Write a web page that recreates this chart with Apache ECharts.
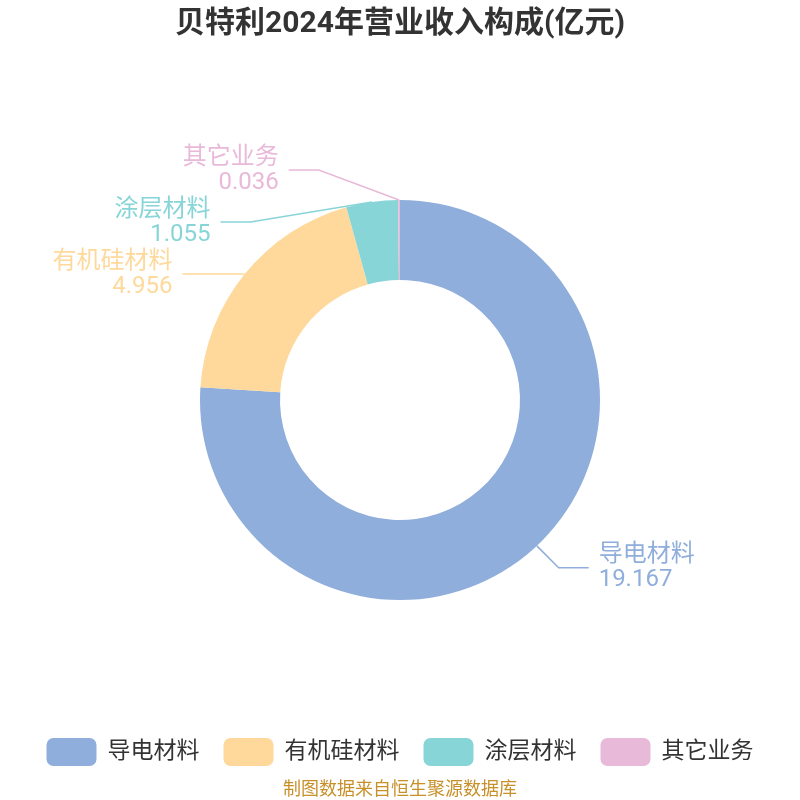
<!DOCTYPE html>
<html>
<head>
<meta charset="utf-8">
<script src="https://cdn.jsdelivr.net/npm/echarts@6/dist/echarts.min.js"></script>
<style>
  html, body { margin: 0; padding: 0; background: #fff; }
  #chart { width: 800px; height: 800px; }
</style>
</head>
<body>
<div id="chart"></div>
<script>
const categories = ["导电材料", "有机硅材料", "涂层材料", "其它业务"];
const values = [19.167, 4.956, 1.055, 0.036];
const colors = ["#8FAEDB", "#FED99B", "#88D5D8", "#E8B9D9"];

const LINE_LEN = 30;
const LINE_LEN2 = 30;
const LABEL_GAP = 10;

const chart = echarts.init(document.getElementById("chart"));

// place labels on a circle around the pie (older echarts style), keep the shifted y
function placeLabel(params) {
  const pts = params.labelLinePoints;
  if (!pts) return {};
  const w = chart.getWidth();
  const h = chart.getHeight();
  const cx = w / 2;
  const cy = h / 2;
  const r = (Math.min(w, h) / 2) * 0.5;
  const dir = pts[2][0] < pts[0][0] ? -1 : 1;
  const y = pts[2][1];
  const dy = Math.abs(y - cy);
  const R = r + LINE_LEN + LINE_LEN2;
  if (dy >= r + LINE_LEN) return {};
  const x = cx + dir * Math.sqrt(R * R - dy * dy);
  const x2 = x - dir * LABEL_GAP;
  const x1 = x2 - dir * LINE_LEN2;
  return {
    x: x,
    y: y,
    align: dir < 0 ? "right" : "left",
    verticalAlign: "middle",
    labelLinePoints: [pts[0], [x1, y], [x2, y]],
  };
}

const option = {
  textStyle: { fontFamily: "Roboto, 'Noto Sans CJK SC', sans-serif" },
  title: {
    text: "贝特利2024年营业收入构成(亿元)",
    left: "center",
    top: 5,
    textStyle: { fontSize: 30, fontWeight: "bold", color: "#333" },
  },
  graphic: [
    {
      type: "text",
      left: "center",
      top: 779,
      style: {
        text: "制图数据来自恒生聚源数据库",
        fill: "#C8902A",
        fontSize: 18,
        fontFamily: "'Noto Sans CJK SC', sans-serif",
      },
    },
  ],
  legend: {
    bottom: 29,
    left: "center",
    itemWidth: 50,
    itemHeight: 28,
    itemGap: 24,
    icon: "roundRect",
    textStyle: { fontSize: 23, color: "#333", padding: [0, 0, 0, 6] },
    data: categories,
  },
  series: [
    {
      type: "pie",
      radius: ["30%", "50%"],
      center: ["50%", "50%"],
      startAngle: 90,
      avoidLabelOverlap: true,
      data: categories.map((name, i) => ({
        name,
        value: values[i],
        itemStyle: { color: colors[i] },
        label: { color: colors[i] },
      })),
      label: {
        show: true,
        formatter: "{b}\n{c}",
        fontSize: 24,
        lineHeight: 25,
        distanceToLabelLine: 8,
      },
      labelLine: { show: true, length: LINE_LEN, length2: LINE_LEN2, lineStyle: { width: 1.5 } },
      labelLayout: placeLabel,
    },
  ],
};
chart.setOption(option);
</script>
</body>
</html>
